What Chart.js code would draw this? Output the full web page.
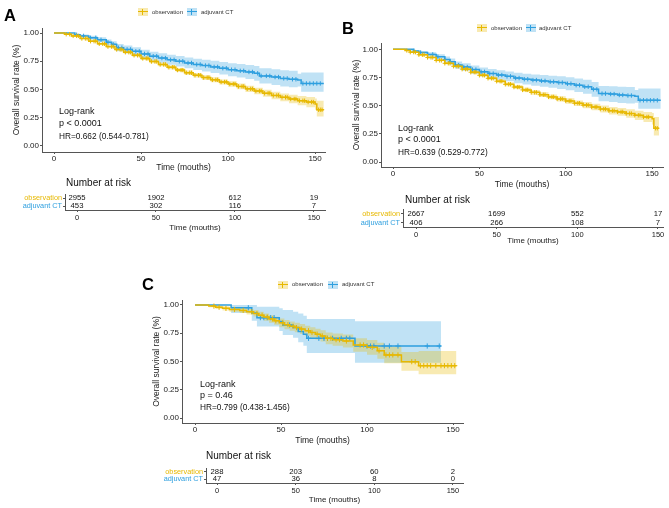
<!DOCTYPE html>
<html>
<head>
<meta charset="utf-8">
<script src="https://cdn.jsdelivr.net/npm/chart.js@4.4.1/dist/chart.umd.min.js"></script>
<style>
  body { margin: 0; background: #fff; width: 669px; height: 508px; position: relative; overflow: hidden;
         font-family: "Liberation Sans", Arial, sans-serif; color: #111; }
  canvas { position: absolute; }
  .t { position: absolute; white-space: nowrap; line-height: 1; z-index: 2; }
  .tag { font-weight: bold; font-size: 16.5px; color: #000; }
  .lg { font-size: 6px; color: #333; }
  .lr { font-size: 9px; }
  .hr { font-size: 8.3px; }
  .nr { font-size: 10px; }
  .sw { position: absolute; width: 10px; height: 8px; z-index: 2;
        background: linear-gradient(var(--c), var(--c)) center / 100% 1.3px no-repeat,
                    linear-gradient(var(--c), var(--c)) center / 1.2px 6px no-repeat, var(--f); }
</style>
</head>
<body>
<canvas id="kmA"></canvas>
<canvas id="kmB"></canvas>
<canvas id="kmC"></canvas>
<canvas id="riskA"></canvas>
<canvas id="riskB"></canvas>
<canvas id="riskC"></canvas>

<!-- panel A -->
<div class="t tag" style="left:4px;top:7px">A</div>
<span class="sw" style="left:138px;top:8px;--c:#E7B800;--f:rgba(231,184,0,.3)"></span>
<div class="t lg" style="left:152px;top:9px">observation</div>
<span class="sw" style="left:187px;top:8px;--c:#2E9FDF;--f:rgba(46,159,223,.3)"></span>
<div class="t lg" style="left:201px;top:9px">adjuvant CT</div>
<div class="t lr" style="left:59px;top:107px">Log-rank</div>
<div class="t lr" style="left:59px;top:119px">p &lt; 0.0001</div>
<div class="t hr" style="left:59px;top:131.5px">HR=0.662 (0.544-0.781)</div>
<div class="t nr" style="left:66px;top:178px">Number at risk</div>

<!-- panel B -->
<div class="t tag" style="left:342px;top:20px">B</div>
<span class="sw" style="left:477px;top:24px;--c:#E7B800;--f:rgba(231,184,0,.3)"></span>
<div class="t lg" style="left:491px;top:25px">observation</div>
<span class="sw" style="left:526px;top:24px;--c:#2E9FDF;--f:rgba(46,159,223,.3)"></span>
<div class="t lg" style="left:539px;top:25px">adjuvant CT</div>
<div class="t lr" style="left:398px;top:123.6px">Log-rank</div>
<div class="t lr" style="left:398px;top:134.5px">p &lt; 0.0001</div>
<div class="t hr" style="left:398px;top:147.5px">HR=0.639 (0.529-0.772)</div>
<div class="t nr" style="left:405px;top:195px">Number at risk</div>

<!-- panel C -->
<div class="t tag" style="left:142px;top:276px">C</div>
<span class="sw" style="left:278px;top:280.5px;--c:#E7B800;--f:rgba(231,184,0,.3)"></span>
<div class="t lg" style="left:292px;top:281.4px">observation</div>
<span class="sw" style="left:328px;top:280.5px;--c:#2E9FDF;--f:rgba(46,159,223,.3)"></span>
<div class="t lg" style="left:342px;top:281.4px">adjuvant CT</div>
<div class="t lr" style="left:200px;top:380.3px">Log-rank</div>
<div class="t lr" style="left:200px;top:391.3px">p = 0.46</div>
<div class="t hr" style="left:200px;top:403px">HR=0.799 (0.438-1.456)</div>
<div class="t nr" style="left:206px;top:451px">Number at risk</div>

<script>
const GOLD = "#E7B800";
const BLUE = "#2E9FDF";
const GOLD_BAND = "rgba(231,184,0,0.3)";
const BLUE_BAND = "rgba(46,159,223,0.3)";
const AXIS = "#555";
const TXT = "#1a1a1a";

const groups = ["observation", "adjuvant CT"];
const timeTicks = [0, 50, 100, 150];
const survTicks = [0, 0.25, 0.5, 0.75, 1];
const riskTimes = [0, 50, 100, 150];

// ---- panel A ----
const timeA_obs = [0,6,10,15,20,25,30,35,40,45,50,55,60,65,70,75,80,85,90,95,100,105,110,115,120,125,130,135,140,145,150,151,155];
const survA_obs = [1,.99,.975,.952,.928,.905,.88,.855,.83,.803,.775,.748,.722,.697,.672,.648,.626,.605,.585,.566,.548,.527,.505,.486,.466,.447,.43,.415,.4,.388,.37,.32,.32];
const hiA_obs   = [1,.993,.98,.959,.936,.914,.89,.866,.842,.816,.789,.763,.738,.714,.69,.667,.646,.626,.607,.589,.572,.552,.532,.515,.497,.48,.465,.453,.441,.433,.42,.40,.40];
const loA_obs   = [1,.987,.97,.945,.92,.896,.87,.844,.818,.79,.761,.733,.706,.68,.654,.629,.606,.584,.563,.543,.524,.502,.478,.457,.435,.414,.395,.377,.359,.343,.32,.26,.26];
const censA_obs = [7,9,11,13,14,16,18,19,21,23,24,26,28,29,31,33,34,36,38,39,41,43,44,46,48,49,51,53,54,56,58,59,61,63,64,66,68,69,71,73,74,76,78,79,81,83,84,86,88,89,91,93,94,96,98,99,101,103,104,106,108,109,111,113,114,116,118,119,121,123,124,126,128,129,131,133,134,136,138,139,141,143,144,146,148,149,152,153,154];

const timeA_adj = [0,9,12,15,20,25,30,33,36,40,45,50,55,60,65,70,75,80,85,90,95,100,105,110,115,118,125,130,135,140,142,155];
const survA_adj = [1,1,.985,.975,.958,.94,.918,.9,.87,.855,.838,.815,.795,.778,.763,.75,.735,.722,.712,.7,.688,.675,.665,.655,.643,.62,.61,.598,.59,.583,.553,.553];
const hiA_adj   = [1,1,.993,.987,.976,.962,.944,.928,.902,.889,.874,.853,.835,.82,.807,.796,.783,.772,.764,.754,.744,.733,.725,.717,.708,.687,.68,.67,.665,.64,.65,.65];
const loA_adj   = [1,1,.977,.963,.94,.918,.892,.872,.838,.821,.802,.777,.755,.736,.719,.704,.687,.672,.66,.646,.632,.617,.605,.593,.578,.553,.54,.526,.52,.525,.48,.48];
const censA_adj = [13,17,21,24,27,31,34,37,39,42,44,47,49,52,54,57,59,62,64,67,69,72,74,77,79,82,84,87,89,92,94,97,99,102,104,107,109,112,114,117,119,122,124,127,129,132,134,137,139,143,145,147,149,151,153];

const riskA_obs = [2955, 1902, 612, 19];
const riskA_adj = [453, 302, 116, 7];

// ---- panel B ----
const timeB_obs = [0,7,10,15,20,25,30,35,40,45,50,55,60,65,70,75,80,85,90,95,100,105,110,115,120,125,130,135,140,145,150,151,154];
const survB_obs = [1,.99,.975,.952,.928,.902,.876,.85,.824,.797,.77,.743,.717,.69,.665,.64,.618,.597,.578,.56,.542,.522,.505,.488,.47,.455,.445,.43,.415,.4,.384,.30,.30];
const hiB_obs   = [1,.993,.98,.959,.936,.911,.886,.861,.836,.81,.784,.758,.733,.707,.683,.659,.638,.618,.6,.583,.566,.547,.532,.517,.501,.488,.48,.468,.456,.445,.434,.40,.40];
const loB_obs   = [1,.987,.97,.945,.92,.893,.866,.839,.812,.784,.756,.728,.701,.673,.647,.621,.598,.576,.556,.537,.518,.497,.478,.459,.439,.422,.41,.392,.374,.355,.334,.235,.235];
const censB_obs = [8,10,12,13,15,17,18,20,22,23,25,27,28,30,32,33,35,37,38,40,42,43,45,47,48,50,52,53,55,57,58,60,62,63,65,67,68,70,72,73,75,77,78,80,82,83,85,87,88,90,92,93,95,97,98,100,102,103,105,107,108,110,112,113,115,117,118,120,122,123,125,127,128,130,132,133,135,137,138,140,142,143,145,147,148,152,153];

const timeB_adj = [0,9,12,15,20,25,30,33,36,40,45,50,55,60,65,70,75,80,85,90,95,100,105,110,115,119,125,130,135,140,142,155];
const survB_adj = [1,1,.985,.972,.955,.935,.91,.89,.86,.843,.82,.8,.785,.772,.76,.745,.735,.727,.72,.712,.705,.695,.682,.668,.645,.607,.603,.595,.59,.583,.548,.548];
const hiB_adj   = [1,1,.993,.984,.973,.957,.936,.918,.892,.877,.856,.838,.825,.814,.804,.791,.783,.777,.772,.766,.761,.753,.742,.73,.71,.674,.673,.667,.665,.64,.652,.652];
const loB_adj   = [1,1,.977,.96,.937,.913,.884,.862,.828,.809,.784,.762,.745,.73,.716,.699,.687,.677,.668,.658,.649,.637,.622,.606,.58,.54,.533,.523,.52,.525,.473,.473];
const censB_adj = [12,16,20,23,26,30,33,36,38,41,43,46,48,51,53,56,58,61,63,66,68,71,73,76,78,81,83,86,88,91,93,96,98,101,103,106,108,111,113,116,118,121,123,126,128,131,133,136,138,143,145,147,149,151,153];

const riskB_obs = [2667, 1699, 552, 17];
const riskB_adj = [406, 266, 108, 7];

// ---- panel C ----
const timeC_obs = [0,8,12,16,20,26,30,34,37,40,43,46,49,52,55,58,61,64,67,70,73,76,80,86,92,100,106,110,120,130,152];
const survC_obs = [1,.99,.98,.97,.96,.952,.94,.925,.91,.893,.876,.86,.842,.826,.812,.8,.787,.772,.757,.742,.726,.705,.693,.681,.646,.625,.595,.558,.498,.463,.463];
const hiC_obs   = [1,1,.995,.988,.981,.975,.965,.953,.94,.925,.91,.896,.88,.866,.853,.842,.831,.817,.804,.79,.776,.757,.747,.738,.706,.69,.665,.632,.585,.593,.593];
const loC_obs   = [1,.98,.965,.952,.939,.929,.915,.897,.88,.861,.842,.824,.804,.786,.771,.758,.743,.727,.71,.694,.676,.653,.639,.624,.586,.56,.525,.484,.418,.388,.388];
const censC_obs = [11,14,18,23,28,33,36,39,42,45,47,51,54,57,59,62,66,68,71,74,77,79,82,84,88,96,98,103,107,111,113,115,118,126,128,131,133,135,137,140,143,145,147,149,151];

const timeC_adj = [0,21,33,36,49,51,57,60,63,65,93,143];
const survC_adj = [1,.975,.928,.888,.853,.823,.8,.765,.74,.705,.637,.637];
const hiC_adj   = [1,1,1,.985,.97,.955,.94,.925,.905,.875,.855,.855];
const loC_adj   = [1,.93,.86,.81,.77,.735,.71,.67,.64,.575,.49,.49];
const censC_adj = [31,38,40,42,44,46,55,66,72,75,77,80,85,88,90,100,102,104,110,113,118,135,142];

const riskC_obs = [288, 203, 60, 2];
const riskC_adj = [47, 36, 8, 0];

// layout of each canvas (page pixels)
const geo = {
  A:  { left: 0,   top: 0,   w: 335, h: 175, yW: 42, xH: 23, padTop: 28, padRight: 10, xMin: -6.9,  xMax: 155.7, yMin: -0.055, yMax: 1.045 },
  B:  { left: 340, top: 0,   w: 329, h: 192, yW: 41, xH: 25, padTop: 43, padRight: 6,  xMin: -6.95, xMax: 156.3, yMin: -0.044, yMax: 1.056 },
  C:  { left: 140, top: 272, w: 330, h: 176, yW: 42, xH: 25, padTop: 28, padRight: 7,  xMin: -7.56, xMax: 155.8, yMin: -0.044, yMax: 1.044 },
  rA: { left: 0,   top: 188, w: 335, h: 47,  yW: 65, xH: 25, padTop: 6,  padRight: 10, xMin: -7.6,  xMax: 157 },
  rB: { left: 340, top: 203, w: 329, h: 45,  yW: 63, xH: 21, padTop: 6,  padRight: 6,  xMin: -8.06, xMax: 153.1 },
  rC: { left: 140, top: 462, w: 330, h: 45,  yW: 66, xH: 24, padTop: 6,  padRight: 7,  xMin: -7,    xMax: 156.4 },
};

Chart.defaults.font.family = '"Liberation Sans", Arial, sans-serif';

function pts(xs, ys) {
  return xs.map((x, i) => ({ x: x, y: ys[i] }));
}

// survival value of a step curve at time t (for placing censor marks)
function survAt(xs, ys, t) {
  let i = 0;
  while (i + 1 < xs.length && xs[i + 1] <= t) i++;
  return ys[i];
}

function kmSets(xs, ys, hi, lo, cens, color, band, mark) {
  return {
    lines: [
      { data: pts(xs, ys), borderColor: color, borderWidth: 1.5, stepped: "before", pointRadius: 0, fill: false },
      { data: cens.map(t => ({ x: t, y: survAt(xs, ys, t) })), showLine: false, pointStyle: "cross",
        pointRadius: mark, pointBorderColor: color, pointBackgroundColor: color, pointBorderWidth: 1 },
    ],
    bands: [
      { data: pts(xs, hi), borderWidth: 0, borderColor: "transparent", pointRadius: 0, stepped: "before", fill: false },
      { data: pts(xs, lo), borderWidth: 0, borderColor: "transparent", pointRadius: 0, stepped: "before", fill: "-1", backgroundColor: band },
    ],
  };
}

function place(id, g) {
  const cv = document.getElementById(id);
  cv.width = g.w;
  cv.height = g.h;
  cv.style.left = g.left + "px";
  cv.style.top = g.top + "px";
  return cv;
}

function xAxis(g, tickSize, titleSize, tickPad) {
  return {
    type: "linear", min: g.xMin, max: g.xMax,
    border: { display: true, color: AXIS, width: 1 },
    grid: { drawOnChartArea: false, drawTicks: true, tickLength: 2, color: AXIS },
    ticks: { font: { size: tickSize }, color: TXT, padding: tickPad, maxRotation: 0, autoSkip: false },
    title: { display: true, text: "Time (mouths)", font: { size: titleSize }, color: TXT, padding: { top: 0, bottom: 2.5 } },
    afterBuildTicks: s => { s.ticks = timeTicks.map(v => ({ value: v })); },
    afterFit: s => { s.height = g.xH; },
  };
}

function kmChart(id, g, obs, adj) {
  return new Chart(place(id, g), {
    type: "line",
    data: { datasets: [...obs.lines, ...adj.lines, ...obs.bands, ...adj.bands] },
    options: {
      responsive: false, animation: false, events: [],
      layout: { padding: { top: g.padTop, right: g.padRight, left: 0, bottom: 0 } },
      plugins: { legend: { display: false }, tooltip: { enabled: false }, filler: { drawTime: "beforeDatasetsDraw" } },
      scales: {
        x: xAxis(g, 8, 8.5, 0),
        y: {
          type: "linear", min: g.yMin, max: g.yMax,
          border: { display: true, color: AXIS, width: 1 },
          grid: { drawOnChartArea: false, drawTicks: true, tickLength: 2, color: AXIS },
          ticks: { font: { size: 8 }, color: TXT, padding: 1, autoSkip: false, callback: v => Number(v).toFixed(2) },
          title: { display: true, text: "Overall survival rate (%)", font: { size: 8.5 }, color: TXT, padding: { top: 12, bottom: 0 } },
          afterBuildTicks: s => { s.ticks = survTicks.map(v => ({ value: v })); },
          afterFit: s => { s.width = g.yW; },
        },
      },
    },
  });
}

// writes the numbers at risk at each point of the table
const riskText = {
  id: "riskText",
  afterDatasetsDraw(chart) {
    const ctx = chart.ctx;
    ctx.save();
    ctx.font = '7.7px "Liberation Sans", Arial, sans-serif';
    ctx.fillStyle = "#111";
    ctx.textAlign = "center";
    ctx.textBaseline = "middle";
    chart.data.datasets.forEach((ds, d) => {
      chart.getDatasetMeta(d).data.forEach((pt, i) => ctx.fillText(String(ds.counts[i]), pt.x, pt.y));
    });
    ctx.restore();
  },
};

function riskChart(id, g, obsN, adjN) {
  return new Chart(place(id, g), {
    type: "line",
    data: {
      datasets: [
        { data: riskTimes.map(t => ({ x: t, y: groups[0] })), counts: obsN, showLine: false, pointRadius: 0 },
        { data: riskTimes.map(t => ({ x: t, y: groups[1] })), counts: adjN, showLine: false, pointRadius: 0 },
      ],
    },
    options: {
      responsive: false, animation: false, events: [],
      layout: { padding: { top: g.padTop, right: g.padRight, left: 0, bottom: 0 } },
      plugins: { legend: { display: false }, tooltip: { enabled: false } },
      scales: {
        x: xAxis(g, 7.5, 8, 1),
        y: {
          type: "category", labels: groups, offset: true,
          border: { display: true, color: AXIS, width: 1 },
          grid: { drawOnChartArea: false, drawTicks: true, tickLength: 2, color: AXIS, offset: false },
          ticks: { font: { size: 7.3, lineHeight: 1 }, color: c => [GOLD, BLUE][c.index], padding: 1, autoSkip: false },
          afterFit: s => { s.width = g.yW; },
        },
      },
    },
    plugins: [riskText],
  });
}

kmChart("kmA", geo.A,
  kmSets(timeA_obs, survA_obs, hiA_obs, loA_obs, censA_obs, GOLD, GOLD_BAND, 2.2),
  kmSets(timeA_adj, survA_adj, hiA_adj, loA_adj, censA_adj, BLUE, BLUE_BAND, 2.2));
kmChart("kmB", geo.B,
  kmSets(timeB_obs, survB_obs, hiB_obs, loB_obs, censB_obs, GOLD, GOLD_BAND, 2.2),
  kmSets(timeB_adj, survB_adj, hiB_adj, loB_adj, censB_adj, BLUE, BLUE_BAND, 2.2));
kmChart("kmC", geo.C,
  kmSets(timeC_obs, survC_obs, hiC_obs, loC_obs, censC_obs, GOLD, GOLD_BAND, 2.6),
  kmSets(timeC_adj, survC_adj, hiC_adj, loC_adj, censC_adj, BLUE, BLUE_BAND, 2.6));

riskChart("riskA", geo.rA, riskA_obs, riskA_adj);
riskChart("riskB", geo.rB, riskB_obs, riskB_adj);
riskChart("riskC", geo.rC, riskC_obs, riskC_adj);
</script>
</body>
</html>
